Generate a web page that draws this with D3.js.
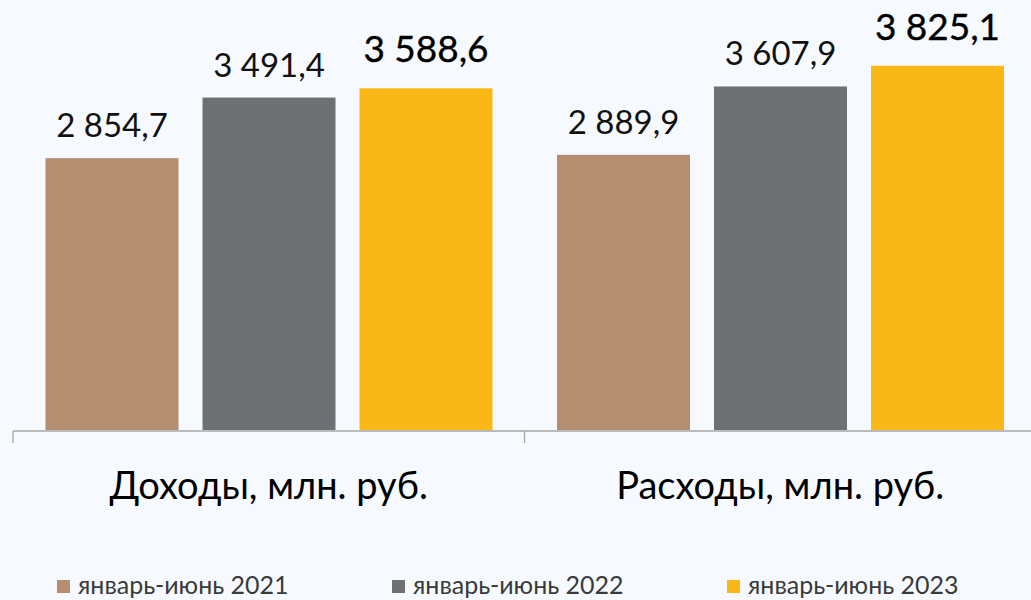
<!DOCTYPE html>
<html>
<head>
<meta charset="utf-8">
<script src="https://cdn.jsdelivr.net/npm/d3@7"></script>
<style>
  html, body { margin: 0; padding: 0; background: #f6fafe; }
  #graphic { width: 1031px; height: 600px; }
  text { font-family: Lato, "Noto Sans", sans-serif; fill: #000; }
</style>
</head>
<body>
<div id="graphic"></div>
<script>
var categories = ["Доходы, млн. руб.", "Расходы, млн. руб."];
var seriesNames = ["январь-июнь 2021", "январь-июнь 2022", "январь-июнь 2023"];
var values2021 = [2854.7, 2889.9];
var values2022 = [3491.4, 3607.9];
var values2023 = [3588.6, 3825.1];
var colours = ["#b58d70", "#6e7074", "#f9b816"];

var graphic = d3.select('#graphic');

function drawGraphic() {
  graphic.selectAll("*").remove();

  var width = 1031, height = 600;
  var baseline = 430;

  var svg = graphic.append("svg")
    .attr("width", width)
    .attr("height", height);

  // build a flat table from the arrays
  var allValues = [values2021, values2022, values2023];
  var data = categories.map(function(c, ci) {
    return {
      category: c,
      bars: seriesNames.map(function(s, si) {
        return { series: s, value: allValues[si][ci], last: si == seriesNames.length - 1 };
      })
    };
  });

  // scales
  var x0 = d3.scaleBand()
    .domain(categories)
    .range([13, 1036]);

  var x1 = d3.scaleBand()
    .domain(seriesNames)
    .range([32.5, x0.bandwidth() - 32])
    .paddingInner(0.153);

  var y = d3.scaleLinear()
    .domain([0, 4500])
    .range([baseline, 1.5]);

  var colour = d3.scaleOrdinal()
    .domain(seriesNames)
    .range(colours);

  var fmt = function(v) {
    return d3.format(",.1f")(v).replace(/,/g, " ").replace(".", ",");
  };

  // bars
  var groups = svg.selectAll("g.group")
    .data(data)
    .join("g")
    .attr("class", "group")
    .attr("transform", d => "translate(" + x0(d.category) + ",0)");

  groups.selectAll("rect")
    .data(d => d.bars)
    .join("rect")
    .attr("x", d => x1(d.series))
    .attr("width", x1.bandwidth())
    .attr("y", d => y(d.value))
    .attr("height", d => baseline - y(d.value))
    .attr("fill", d => colour(d.series));

  // value labels, the latest period is a little bigger and heavier
  groups.selectAll("text.value")
    .data(d => d.bars)
    .join("text")
    .attr("class", "value")
    .attr("x", d => x1(d.series) + x1.bandwidth() / 2)
    .attr("y", d => y(d.value) - (d.last ? 26 : 21))
    .attr("text-anchor", "middle")
    .style("font-size", d => d.last ? "37px" : "33px")
    .style("fill", d => d.last ? "#000" : "#111")
    .style("stroke", d => d.last ? "#000" : "none")
    .style("stroke-width", d => d.last ? 0.35 : 0)
    .text(d => fmt(d.value));

  // category axis
  var axis = svg.append("g").attr("class", "x axis");
  axis.append("line")
    .attr("x1", x0.range()[0])
    .attr("x2", x0.range()[1])
    .attr("y1", baseline + 1)
    .attr("y2", baseline + 1)
    .attr("stroke", "#a6a6a6")
    .attr("stroke-width", 1.3);

  var tickPositions = categories.map(c => x0(c)).concat([x0.range()[1]]);
  axis.selectAll("line.tick")
    .data(tickPositions)
    .join("line")
    .attr("class", "tick")
    .attr("x1", d => d)
    .attr("x2", d => d)
    .attr("y1", baseline + 1)
    .attr("y2", baseline + 13)
    .attr("stroke", "#a6a6a6")
    .attr("stroke-width", 1.3);

  axis.selectAll("text.cat")
    .data(categories)
    .join("text")
    .attr("class", "cat")
    .attr("x", d => x0(d) + x0.bandwidth() / 2)
    .attr("y", baseline + 69)
    .attr("text-anchor", "middle")
    .style("font-size", "38px")
    .text(d => d);

  // legend
  var legend = svg.append("g")
    .attr("class", "legend")
    .attr("transform", "translate(57,580)");

  var item = legend.selectAll("g.legend--item")
    .data(d3.zip(seriesNames, colours))
    .join("g")
    .attr("class", "legend--item")
    .attr("transform", (d, i) => "translate(" + (i * 335) + ",0)");

  item.append("rect")
    .attr("width", 13)
    .attr("height", 13)
    .attr("fill", d => d[1]);

  item.append("text")
    .attr("x", 21)
    .attr("y", 14)
    .style("font-size", "25px")
    .style("fill", "#3a3a3a")
    .text(d => d[0]);
}

drawGraphic();
</script>
</body>
</html>
